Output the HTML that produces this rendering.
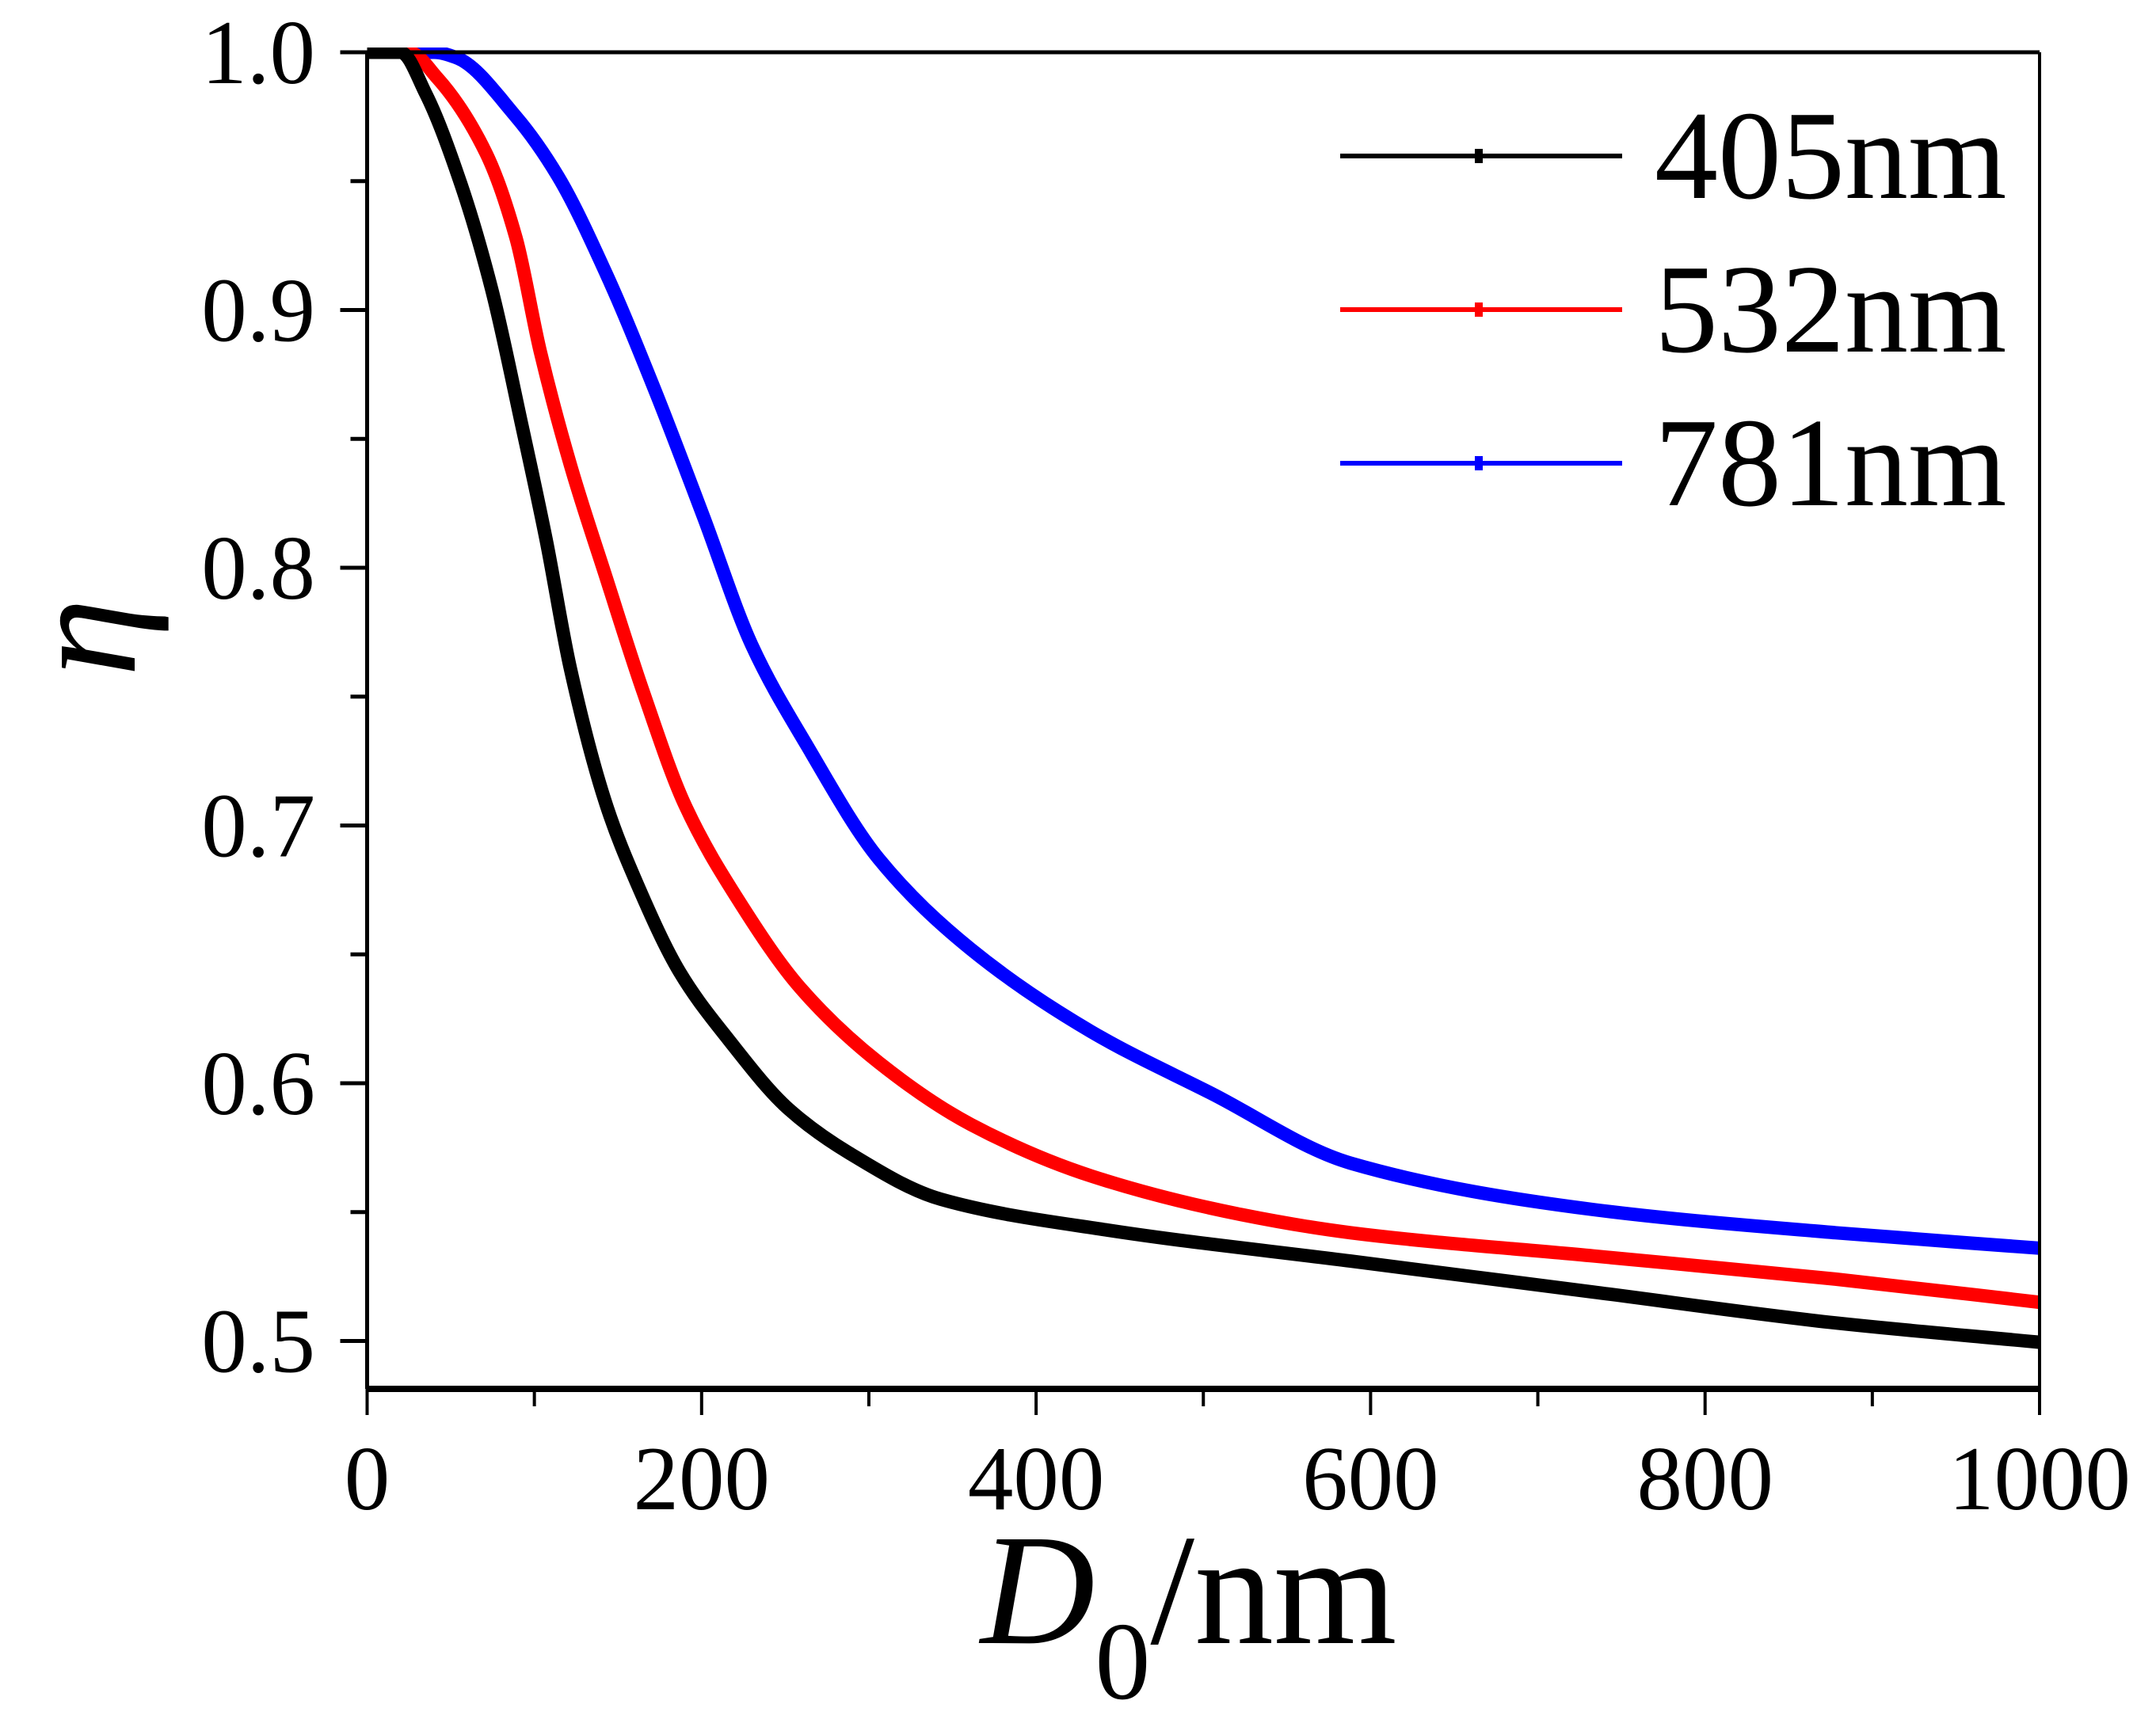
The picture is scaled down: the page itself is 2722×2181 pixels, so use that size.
<!DOCTYPE html>
<html><head><meta charset="utf-8"><style>
html,body{margin:0;padding:0;background:#fff;}
svg{display:block;}
text{font-family:"Liberation Serif",serif;fill:#000;}
</style></head><body>
<svg id="chart" width="2722" height="2181" viewBox="0 0 2722 2181" xmlns="http://www.w3.org/2000/svg">
<defs><clipPath id="clip"><rect x="463" y="60" width="2113" height="1694"/></clipPath></defs>
<g id="plot" clip-path="url(#clip)"></g>
<g id="axes"></g>
<g id="legend"></g>
</svg>
<script>
const xTicks = [0, 200, 400, 600, 800, 1000];
const yTicks = [0.5, 0.6, 0.7, 0.8, 0.9, 1.0];
const yTickLabels = ["0.5", "0.6", "0.7", "0.8", "0.9", "1.0"];
const seriesNames = ["405nm", "532nm", "781nm"];
const seriesColors = ["#000000", "#ff0000", "#0000ff"];
const x405 = [0, 20, 35, 56, 74.5, 92.6, 107, 121.5, 143, 161, 187, 216, 252, 288, 343, 443, 588, 733, 878, 1000];
const y405 = [1, 1, 0.984, 0.949, 0.908, 0.855, 0.811, 0.761, 0.708, 0.678, 0.643, 0.617, 0.59, 0.573, 0.555, 0.543, 0.531, 0.519, 0.507, 0.4995];
const x532 = [0, 25, 42, 71, 89, 103.5, 121.5, 143, 165, 190, 223, 259, 306, 361, 433, 523, 588, 733, 878, 1000];
const y532 = [1, 1, 0.99, 0.961, 0.928, 0.884, 0.84, 0.796, 0.752, 0.708, 0.67, 0.637, 0.608, 0.584, 0.564, 0.549, 0.542, 0.533, 0.524, 0.515];
const x781 = [0, 40, 53, 89, 114, 143, 172, 201, 230, 263, 306, 361, 433, 505, 588, 733, 878, 1000];
const y781 = [1, 1, 0.998, 0.975, 0.952, 0.914, 0.869, 0.82, 0.77, 0.731, 0.687, 0.652, 0.62, 0.596, 0.569, 0.551, 0.542, 0.536];

const NS = "http://www.w3.org/2000/svg";
const L = 463.5, R = 2575, T = 66, B = 1754;
const X0 = 0, X1 = 1000, Y1 = 1.0, YTOP_PX = 66, PER = 325.5;
function sx(v){ return L + (v - X0) / (X1 - X0) * (R - L); }
function sy(v){ return YTOP_PX + (Y1 - v) * 10 * PER; }
function mk(tag, attrs, parent){
  const e = document.createElementNS(NS, tag);
  for (const k in attrs) e.setAttribute(k, attrs[k]);
  parent.appendChild(e);
  return e;
}
const plot = document.getElementById('plot');
const axes = document.getElementById('axes');
const legend = document.getElementById('legend');

// monotone cubic (Fritsch-Carlson) in pixel space
function monoPath(xs, ys){
  const px = xs.map(sx), py = ys.map(sy), n = px.length;
  const d = [], m = new Array(n);
  for (let i = 0; i < n - 1; i++) d.push((py[i+1] - py[i]) / (px[i+1] - px[i]));
  m[0] = d[0]; m[n-1] = d[n-2];
  for (let i = 1; i < n - 1; i++){
    if (d[i-1] * d[i] <= 0) m[i] = 0;
    else {
      const h0 = px[i] - px[i-1], h1 = px[i+1] - px[i];
      const w1 = 2*h1 + h0, w2 = h1 + 2*h0;
      m[i] = (w1 + w2) / (w1 / d[i-1] + w2 / d[i]);
    }
  }
  let s = "M" + px[0] + "," + py[0];
  for (let i = 0; i < n - 1; i++){
    const h = px[i+1] - px[i];
    s += " C" + (px[i] + h/3) + "," + (py[i] + m[i]*h/3) + " " + (px[i+1] - h/3) + "," + (py[i+1] - m[i+1]*h/3) + " " + px[i+1] + "," + py[i+1];
  }
  return s;
}
const allX = [x405, x532, x781], allY = [y405, y532, y781];
const keys = ["405", "532", "781"];
for (let s = 2; s >= 0; s--){
  const path = mk('path', {d: monoPath(allX[s], allY[s]), fill: 'none', stroke: seriesColors[s], 'stroke-width': 17, 'stroke-linejoin': 'round'}, plot);
  
  
}

const frame = [
  ['axis-left', L, T, L, B, 5],
  ['axis-right', R, T, R, B, 4],
  ['axis-top', L - 34, T, R, T, 5],
  ['axis-bottom', L, B, R, B, 8]
];
frame.forEach(f => {
  const ln = mk('line', {x1: f[1], y1: f[2], x2: f[3], y2: f[4], stroke: '#000', 'stroke-width': f[5]}, axes);
  
  
});
for (let v = 0.5; v <= 1.0001; v += 0.05){
  const major = Math.abs(v * 10 - Math.round(v * 10)) < 1e-6;
  const t = mk('line', {x1: L - (major ? 34 : 21), y1: sy(v), x2: L, y2: sy(v), stroke: '#000', 'stroke-width': 5}, axes);
  
  
}
yTicks.forEach((v, i) => {
  const tx = mk('text', {x: 398, y: sy(v) + 39, 'text-anchor': 'end', 'font-size': 115}, axes);
  tx.textContent = yTickLabels[i];
  
  
});
for (let v = 0; v <= 1000; v += 100){
  const major = v % 200 === 0;
  const t = mk('line', {x1: sx(v), y1: B, x2: sx(v), y2: B + (major ? 33 : 22), stroke: '#000', 'stroke-width': 4}, axes);
  
  
}
xTicks.forEach(v => {
  const tx = mk('text', {x: sx(v), y: 1906, 'text-anchor': 'middle', 'font-size': 115}, axes);
  tx.textContent = String(v);
  
  
});
const legY = [197, 391, 585];
seriesNames.forEach((n, i) => {
  const g = mk('g', {}, legend);
  
  
  mk('line', {x1: 1692, y1: legY[i], x2: 2048, y2: legY[i], stroke: seriesColors[i], 'stroke-width': 6}, g);
  mk('rect', {x: 1862, y: legY[i] - 9, width: 10, height: 18, fill: seriesColors[i]}, g);
  const tx = mk('text', {x: 2089, y: legY[i] + 53, 'font-size': 160}, g);
  tx.textContent = n;
});
</script>
<svg style="position:absolute;left:0;top:0" width="2722" height="2181">
<text x="1238" y="2075" font-size="200" style="font-family:'Liberation Serif',serif"><tspan font-style="italic">D</tspan><tspan font-size="140" dy="70">0</tspan><tspan dy="-70">/nm</tspan></text>
<text x="0" y="0" font-size="200" font-style="italic" text-anchor="middle" transform="translate(170,805) rotate(-90)" style="font-family:'Liberation Serif',serif">η</text>
</svg>
</body></html>
